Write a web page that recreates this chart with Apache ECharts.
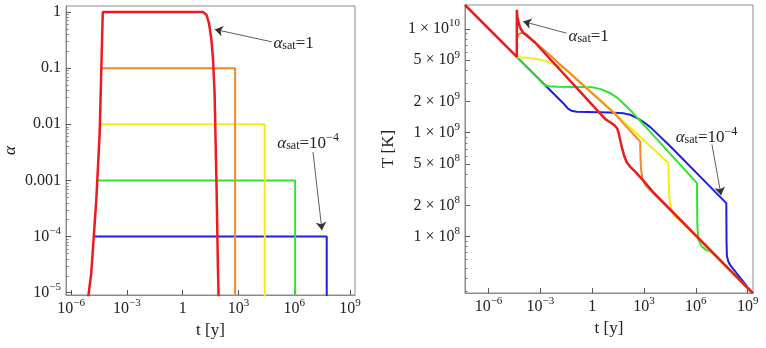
<!DOCTYPE html>
<html>
<head>
<meta charset="utf-8">
<script src="https://cdn.jsdelivr.net/npm/echarts@6/dist/echarts.min.js"></script>
<style>
html, body { margin: 0; padding: 0; background: #fff; }
#main { width: 766px; height: 348px; }
</style>
</head>
<body>
<div id="main"></div>
<script>
// tick values and labels ('^' marks a superscript)
const timeTicks = [1e-6, 1e-3, 1, 1e3, 1e6, 1e9]
const timeTickLabels = ['10^−6', '10^−3', '1', '10^3', '10^6', '10^9']
const alphaTicks = [1e-5, 1e-4, 1e-3, 0.01, 0.1, 1]
const alphaTickLabels = ['10^−5', '10^−4', '0.001', '0.01', '0.1', '1']
const tempTicks = [1e8, 2e8, 5e8, 1e9, 2e9, 5e9, 1e10]
const tempTickLabels = ['1 × 10^8', '2 × 10^8', '5 × 10^8', '1 × 10^9', '2 × 10^9', '5 × 10^9', '1 × 10^10']

// left panel: alpha(t), [t in y, alpha]
const alphaRed = [[7.4e-6, 6.3e-6], [1.2e-5, 2.24e-5], [2.24e-5, 4.5e-4], [3.4e-5, 6.9e-3], [4.2e-5, 0.105], [5.0e-5, 1],
  [12.3, 1], [19, 0.89], [26, 0.63], [35, 0.32], [43, 0.14], [52, 0.035], [66, 7.9e-4], [79, 2.5e-5], [89, 5e-6]]
const alphaOrange = [[4.2e-5, 0.1], [660, 0.1], [660, 1e-6]]
const alphaYellow = [[3.5e-5, 0.01], [2.6e4, 0.01], [2.6e4, 1e-6]]
const alphaGreen = [[2.5e-5, 1e-3], [1.12e6, 1e-3], [1.12e6, 1e-6]]
const alphaBlue = [[1.65e-5, 1e-4], [5.6e7, 1e-4], [5.6e7, 1e-6]]

// right panel: T(t), [t in y, T in K]
const tempRed = [[4.37e-8, 1.70e10], [4.37e-5, 5.37e9], [4.37e-5, 1.53e10], [4.68e-5, 1.32e10], [5.5e-5, 1.15e10],
  [6.92e-5, 1.02e10], [1.02e-4, 9.2e9], [2.0e-4, 8.4e9], [4.9e-4, 7.4e9], [5.6, 1.36e9], [8.9, 1.29e9], [14, 1.23e9],
  [21, 1.17e9], [28, 1.10e9], [35, 9.8e8], [45, 8.1e8], [56, 6.9e8], [74, 5.9e8], [100, 5.2e8], [160, 4.7e8],
  [320, 4.2e8], [1000, 3.4e8], [4000, 2.6e8], [2.04e9, 2.83e7]]
const tempOrange = [[4.37e-5, 5.37e9], [4.37e-5, 8.1e9], [5.6e-5, 8.9e9], [8.9e-5, 9.2e9], [1.58e-4, 8.9e9],
  [3.16e-4, 7.9e9], [9.5e-4, 6.8e9], [0.20, 3.05e9], [17, 1.57e9], [600, 8.2e8], [630, 5.6e8], [680, 4.4e8],
  [830, 3.6e8], [1260, 3.1e8], [2240, 2.8e8], [4000, 2.55e8], [2.04e9, 2.83e7]]
const tempYellow = [[4.37e-5, 5.37e9], [2.5e-4, 5.25e9], [9.5e-4, 5.06e9], [2.5e-3, 4.84e9], [7.1e-3, 4.53e9],
  [0.033, 4.05e9], [0.20, 3.1e9], [1.82, 2.24e9], [42, 1.38e9], [2.6e4, 5.1e8], [2.8e4, 2.8e8], [3.16e4, 2.1e8],
  [4.1e4, 1.78e8], [5.6e4, 1.58e8], [7.9e4, 1.50e8], [1.26e5, 1.43e8], [2.04e9, 2.83e7]]
const tempGreen = [[4.37e-5, 5.37e9], [7.6e-4, 3.34e9], [1.12e-3, 3.1e9], [1.78e-3, 2.88e9], [3.16e-3, 2.8e9],
  [0.01, 2.77e9], [1, 2.74e9], [3.16, 2.63e9], [10, 2.43e9], [32, 2.14e9], [195, 1.6e9], [1.16e6, 3.27e8],
  [1.23e6, 1.26e8], [1.41e6, 9.3e7], [2.24e6, 8.0e7], [4.0e6, 7.4e7], [6.9e6, 7.2e7], [1.26e7, 6.6e7], [2.04e9, 2.83e7]]
const tempBlue = [[4.37e-5, 5.37e9], [0.025, 1.87e9], [0.040, 1.71e9], [0.063, 1.63e9], [0.126, 1.59e9],
  [10, 1.57e9], [63, 1.54e9], [160, 1.49e9], [400, 1.38e9], [1000, 1.26e9], [2500, 1.12e9], [3.3e4, 7.4e8],
  [5.8e7, 2.1e8], [6.0e7, 8.9e7], [6.3e7, 6.5e7], [7.6e7, 5.75e7], [9.8e7, 5.3e7], [2.4e8, 4.4e7],
  [1e9, 3.24e7], [2.04e9, 2.85e7]]

// annotations: text anchor, arrow tail, arrow head (data coords)
const alphaNotes = [
  { text: 'α_sat=1', at: [7.1e4, 0.29], tail: [6.0e4, 0.295], head: [53, 0.49] },
  { text: 'α_sat=10^−4', at: [1.15e5, 4.8e-3], tail: [1.02e7, 3.2e-3], head: [3.1e7, 1.3e-4] }
]
const tempNotes = [
  { text: 'α_sat=1', at: [0.040, 8.8e9], tail: [0.033, 9.1e9], head: [1.02e-4, 1.18e10] },
  { text: 'α_sat=10^−4', at: [6.4e4, 9.4e8], tail: [8.6e6, 7.7e8], head: [2.9e7, 2.5e8] }
]

const serif = "'Liberation Serif', 'DejaVu Serif', serif"
const frame = '#8c8c8c'
const colors = { red: '#ec1c1c', orange: '#f08a2b', yellow: '#f7ea16', green: '#2fe42f', blue: '#1f1fe0' }

function minorTicks (lo, hi) {
  const out = []
  for (let e = Math.floor(Math.log10(lo)); e <= Math.ceil(Math.log10(hi)); e++) {
    for (let k = 2; k <= 9; k++) {
      const v = k * Math.pow(10, e)
      if (v > lo && v < hi) out.push(v)
    }
  }
  return out
}

function richLabel (text) {
  const parts = text.split('^')
  return parts.length > 1 ? '{b|' + parts[0] + '}{s|' + parts[1] + '}' : '{b|' + parts[0] + '}'
}

function tickFormatter (ticks, labels) {
  return function (v) {
    const i = ticks.findIndex(t => Math.abs(Math.log10(t) - Math.log10(v)) < 1e-6)
    return i < 0 ? '' : richLabel(labels[i])
  }
}

const tickRich = {
  b: { fontFamily: serif, fontSize: 16, color: '#222', lineHeight: 22 },
  s: { fontFamily: serif, fontSize: 11, color: '#222', lineHeight: 12, verticalAlign: 'top' }
}

function noteLabel (text) {
  const m = text.split('=')
  const sub = m[0].split('_')
  const val = m[1].split('^')
  let s = '{i|' + sub[0] + '}{sub|' + sub[1] + '}{n|=' + val[0] + '}'
  if (val.length > 1) s += '{sup|' + val[1] + '}'
  return s
}

const noteRich = {
  i: { fontFamily: serif, fontStyle: 'italic', fontSize: 17, color: '#222', lineHeight: 20, verticalAlign: 'bottom' },
  sub: { fontFamily: serif, fontSize: 12, color: '#222', lineHeight: 20, verticalAlign: 'bottom' },
  n: { fontFamily: serif, fontSize: 17, color: '#222', lineHeight: 20, verticalAlign: 'bottom' },
  sup: { fontFamily: serif, fontSize: 12, color: '#222', lineHeight: 12, verticalAlign: 'top' }
}

function mainAxis (gridIndex, min, max, ticks, labels, name, nameGap, isY) {
  return {
    type: 'log',
    gridIndex: gridIndex,
    min: min,
    max: max,
    position: isY ? 'left' : 'bottom',
    axisLine: { show: true, lineStyle: { color: frame, width: 1 } },
    axisTick: { show: true, inside: true, length: 5, customValues: ticks, lineStyle: { color: '#555', width: 1 } },
    axisLabel: {
      show: true,
      customValues: ticks,
      margin: isY ? 5 : 3,
      formatter: tickFormatter(ticks, labels),
      rich: tickRich,
      showMinLabel: true,
      showMaxLabel: true,
      hideOverlap: false
    },
    splitLine: { show: false },
    minorTick: { show: false },
    name: name,
    nameLocation: 'middle',
    nameGap: nameGap,
    nameTextStyle: { fontFamily: serif, fontSize: 17, color: '#222', fontStyle: name === 'α' ? 'italic' : 'normal' }
  }
}

function minorAxis (gridIndex, min, max, ticks) {
  return {
    type: 'log',
    gridIndex: gridIndex,
    min: min,
    max: max,
    position: 'left',
    axisLine: { show: false },
    axisTick: { show: true, inside: true, length: 2.5, customValues: ticks, lineStyle: { color: '#777', width: 1 } },
    axisLabel: { show: false },
    splitLine: { show: false }
  }
}

function curve (name, data, color, xi, yi, width) {
  return {
    name: name,
    type: 'line',
    xAxisIndex: xi,
    yAxisIndex: yi,
    data: data,
    showSymbol: false,
    symbol: 'none',
    smooth: false,
    clip: true,
    silent: true,
    lineStyle: { color: color, width: width || 2 },
    emphasis: { disabled: true }
  }
}

function withNotes (series, notes) {
  series.markLine = {
    silent: true,
    symbol: ['none', 'arrow'],
    symbolSize: 8,
    label: { show: false },
    lineStyle: { color: '#333', width: 0.8, type: 'solid' },
    emphasis: { disabled: true },
    data: notes.map(n => [{ coord: n.tail }, { coord: n.head }])
  }
  series.markPoint = {
    silent: true,
    symbol: 'circle',
    symbolSize: 1,
    itemStyle: { color: 'rgba(0,0,0,0)' },
    label: { show: true, position: 'right', distance: 0, rich: noteRich },
    data: notes.map(n => ({ coord: n.at, label: { formatter: noteLabel(n.text) } }))
  }
  return series
}

const tMinL = 5.25e-7, tMaxL = 1.86e9, aMin = 9.1e-6, aMax = 1.28
const tMinR = 4.37e-8, tMaxR = 2.04e9, TMin = 2.86e7, TMax = 1.70e10

const chart = echarts.init(document.getElementById('main'))
chart.setOption({
  animation: false,
  backgroundColor: '#fff',
  grid: [
    { left: 66, top: 6, width: 289, height: 289, show: true, borderColor: frame, borderWidth: 1, backgroundColor: 'transparent' },
    { left: 465, top: 5, width: 288, height: 288, show: true, borderColor: frame, borderWidth: 1, backgroundColor: 'transparent' }
  ],
  xAxis: [
    mainAxis(0, tMinL, tMaxL, timeTicks, timeTickLabels, 't [y]', 27, false),
    mainAxis(1, tMinR, tMaxR, timeTicks, timeTickLabels, 't [y]', 27, false)
  ],
  yAxis: [
    mainAxis(0, aMin, aMax, alphaTicks, alphaTickLabels, 'α', 47, true),
    minorAxis(0, aMin, aMax, minorTicks(aMin, aMax)),
    mainAxis(1, TMin, TMax, tempTicks, tempTickLabels, 'T [K]', 68, true),
    minorAxis(1, TMin, TMax, minorTicks(TMin, TMax))
  ],
  series: [
    curve('blue', alphaBlue, colors.blue, 0, 0),
    curve('green', alphaGreen, colors.green, 0, 0),
    curve('yellow', alphaYellow, colors.yellow, 0, 0),
    curve('orange', alphaOrange, colors.orange, 0, 0),
    withNotes(curve('red', alphaRed, colors.red, 0, 0, 2.5), alphaNotes),
    curve('blue', tempBlue, colors.blue, 1, 2),
    curve('green', tempGreen, colors.green, 1, 2),
    curve('yellow', tempYellow, colors.yellow, 1, 2),
    curve('orange', tempOrange, colors.orange, 1, 2),
    withNotes(curve('red', tempRed, colors.red, 1, 2, 2.5), tempNotes)
  ]
})
</script>
</body>
</html>
